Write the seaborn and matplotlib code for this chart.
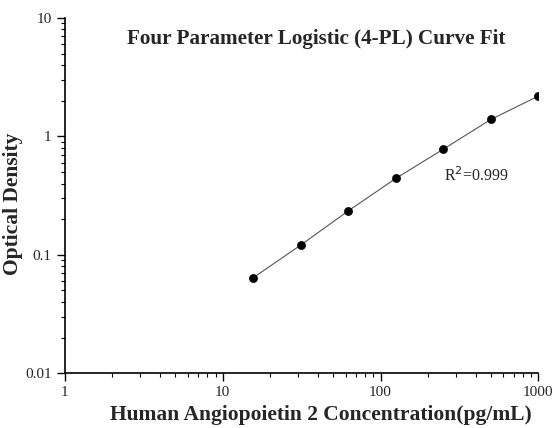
import seaborn as sns
import pandas as pd
import matplotlib.pyplot as plt
from matplotlib.ticker import FixedLocator, FixedFormatter, LogLocator, NullFormatter

# Data standar
konsentrasi = [15.6, 31.25, 62.5, 125, 250, 500, 1000]
od = [0.064, 0.121, 0.235, 0.442, 0.78, 1.39, 2.19]
x_ticks = [1, 10, 100, 1000]
x_labels = ["1", "10", "100", "1000"]
y_ticks = [0.01, 0.1, 1, 10]
y_labels = ["0.01", "0.1", "1", "10"]

df = pd.DataFrame({"konsentrasi": konsentrasi, "od": od})

sns.set_style("ticks")
plt.rcParams["font.family"] = ["Liberation Serif", "DejaVu Serif"]

fig, ax = plt.subplots(figsize=(5.55, 4.28), dpi=100)
fig.subplots_adjust(left=0.117, right=0.97, top=0.958, bottom=0.128)

sns.lineplot(data=df, x="konsentrasi", y="od", color="#555555",
             linewidth=0.8, ax=ax)
sns.scatterplot(data=df, x="konsentrasi", y="od", color="black",
                s=34, edgecolor="black", zorder=3, ax=ax)

ax.set_xscale("log")
ax.set_yscale("log")
ax.set_xlim(1, 1000)
ax.set_ylim(0.01, 10)

ax.xaxis.set_major_locator(FixedLocator(x_ticks))
ax.xaxis.set_major_formatter(FixedFormatter(x_labels))
ax.yaxis.set_major_locator(FixedLocator(y_ticks))
ax.yaxis.set_major_formatter(FixedFormatter(y_labels))
ax.xaxis.set_minor_locator(LogLocator(base=10, subs=range(2, 10)))
ax.yaxis.set_minor_locator(LogLocator(base=10, subs=range(2, 10)))
ax.xaxis.set_minor_formatter(NullFormatter())
ax.yaxis.set_minor_formatter(NullFormatter())

ax.tick_params(which="major", length=6, width=1, labelsize=11, color="black")
ax.tick_params(which="minor", length=3, width=0.8, color="black")
for s in ["left", "bottom"]:
    ax.spines[s].set_linewidth(1.2)
    ax.spines[s].set_color("black")
sns.despine(ax=ax)

ax.set_xlabel("Human Angiopoietin 2 Concentration(pg/mL)", fontsize=15.5,
              fontweight="bold")
ax.xaxis.set_label_coords(0.54, -0.09)
ax.set_ylabel("Optical Density", fontsize=15.5, fontweight="bold")
ax.yaxis.set_label_coords(-0.088, 0.476)
ax.text(0.53, 0.94, "Four Parameter Logistic (4-PL) Curve Fit",
        transform=ax.transAxes, ha="center", va="center",
        fontsize=15.2, fontweight="bold")
ax.text(0.8, 0.555, r"R$^2$=0.999", transform=ax.transAxes,
        ha="left", va="center", fontsize=11.5)

plt.savefig("out.png", dpi=100)
